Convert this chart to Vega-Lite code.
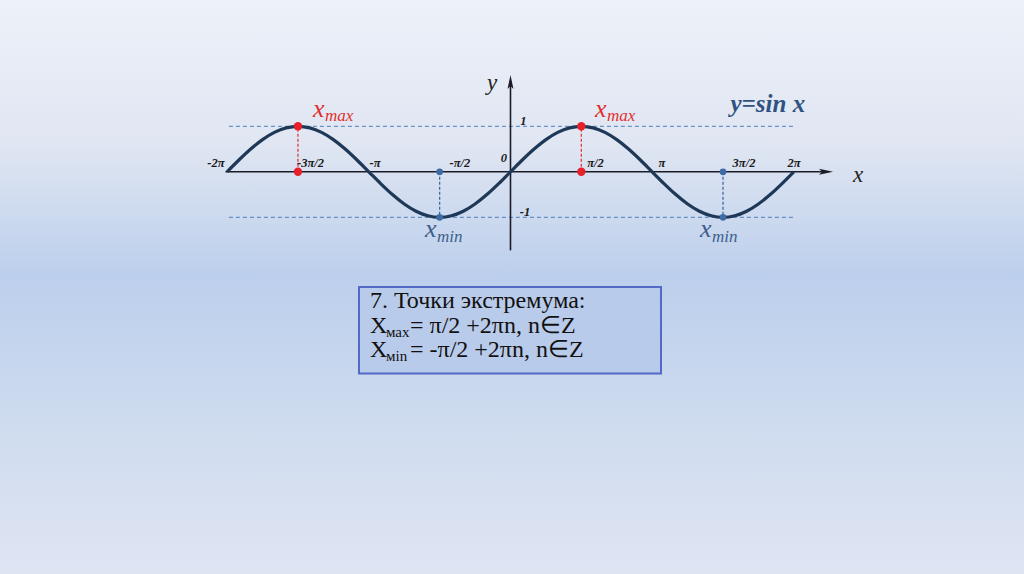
{
  "$schema": "https://vega.github.io/schema/vega-lite/v6.json",
  "width": 1024,
  "height": 574,
  "padding": 0,
  "autosize": "none",
  "background": "#d3ddef",
  "config": {
    "view": {
      "stroke": null,
      "fill": {"gradient": "linear", "x1": 0, "y1": 0, "x2": 0, "y2": 1, "stops": [
        {"offset": 0, "color": "#edf1f9"},
        {"offset": 0.25, "color": "#e0e6f2"},
        {"offset": 0.48, "color": "#bccfec"},
        {"offset": 0.75, "color": "#cfdcef"},
        {"offset": 1, "color": "#dfe4f3"}
      ]}
    },
    "text": {"font": "Liberation Serif"}
  },
  "datasets": {
    "sine": [
      {"x": -6.2832, "y": 0}, {"x": -6.0214, "y": 0.2588}, {"x": -5.7596, "y": 0.5}, {"x": -5.4978, "y": 0.7071},
      {"x": -5.236, "y": 0.866}, {"x": -4.9742, "y": 0.9659}, {"x": -4.7124, "y": 1}, {"x": -4.4506, "y": 0.9659},
      {"x": -4.1888, "y": 0.866}, {"x": -3.927, "y": 0.7071}, {"x": -3.6652, "y": 0.5}, {"x": -3.4034, "y": 0.2588},
      {"x": -3.1416, "y": 0}, {"x": -2.8798, "y": -0.2588}, {"x": -2.618, "y": -0.5}, {"x": -2.3562, "y": -0.7071},
      {"x": -2.0944, "y": -0.866}, {"x": -1.8326, "y": -0.9659}, {"x": -1.5708, "y": -1}, {"x": -1.309, "y": -0.9659},
      {"x": -1.0472, "y": -0.866}, {"x": -0.7854, "y": -0.7071}, {"x": -0.5236, "y": -0.5}, {"x": -0.2618, "y": -0.2588},
      {"x": 0, "y": 0}, {"x": 0.2618, "y": 0.2588}, {"x": 0.5236, "y": 0.5}, {"x": 0.7854, "y": 0.7071},
      {"x": 1.0472, "y": 0.866}, {"x": 1.309, "y": 0.9659}, {"x": 1.5708, "y": 1}, {"x": 1.8326, "y": 0.9659},
      {"x": 2.0944, "y": 0.866}, {"x": 2.3562, "y": 0.7071}, {"x": 2.618, "y": 0.5}, {"x": 2.8798, "y": 0.2588},
      {"x": 3.1416, "y": 0}, {"x": 3.4034, "y": -0.2588}, {"x": 3.6652, "y": -0.5}, {"x": 3.927, "y": -0.7071},
      {"x": 4.1888, "y": -0.866}, {"x": 4.4506, "y": -0.9659}, {"x": 4.7124, "y": -1}, {"x": 4.9742, "y": -0.9659},
      {"x": 5.236, "y": -0.866}, {"x": 5.4978, "y": -0.7071}, {"x": 5.7596, "y": -0.5}, {"x": 6.0214, "y": -0.2588},
      {"x": 6.2832, "y": 0}
    ],
    "box": [{"x": -3.359, "x2": 3.337, "y": -2.532, "y2": -4.433}],
    "hlines": [{"x": -6.243, "x2": 6.308, "y": 1}, {"x": -6.243, "x2": 6.308, "y": -1}],
    "axes": [{"x": -6.32, "x2": 7.0, "y": 0, "y2": 0}, {"x": 0, "x2": 0, "y": -1.727, "y2": 2.0}],
    "xarrow": [{"x": 6.996, "y": 0}],
    "yarrow": [{"x": 0, "y": 1.974}],
    "redv": [{"x": -4.7124, "y": 0, "y2": 1}, {"x": 1.5708, "y": 0, "y2": 1}],
    "bluev": [{"x": -1.5708, "y": 0, "y2": -1}, {"x": 4.7124, "y": 0, "y2": -1}],
    "redp": [{"x": -4.7124, "y": 1}, {"x": -4.7124, "y": 0}, {"x": 1.5708, "y": 1}, {"x": 1.5708, "y": 0}],
    "bluep": [{"x": -1.5708, "y": 0}, {"x": -1.5708, "y": -1}, {"x": 4.7124, "y": 0}, {"x": 4.7124, "y": -1}],
    "ticks": [
      {"x": -6.53, "y": 0.112, "t": "-2π"}, {"x": -4.435, "y": 0.112, "t": "-3π/2"},
      {"x": -3.004, "y": 0.112, "t": "-π"}, {"x": -1.12, "y": 0.112, "t": "-π/2"},
      {"x": -0.144, "y": 0.222, "t": "0"}, {"x": 0.288, "y": 1.029, "t": "1"},
      {"x": 0.322, "y": -0.965, "t": "-1"}, {"x": 1.885, "y": 0.112, "t": "π/2"},
      {"x": 3.359, "y": 0.112, "t": "π"}, {"x": 5.177, "y": 0.112, "t": "3π/2"},
      {"x": 6.286, "y": 0.112, "t": "2π"}
    ],
    "maxbig": [{"x": -4.379, "y": 1.204, "t": "x"}, {"x": 1.874, "y": 1.204, "t": "x"}],
    "maxsub": [{"x": -4.113, "y": 1.127, "t": "max"}, {"x": 2.14, "y": 1.127, "t": "max"}],
    "minbig": [{"x": -1.896, "y": -1.433, "t": "x"}, {"x": 4.202, "y": -1.433, "t": "x"}],
    "minsub": [{"x": -1.63, "y": -1.543, "t": "min"}, {"x": 4.468, "y": -1.543, "t": "min"}],
    "axislabels": [{"x": -0.521, "y": 1.798, "t": "y"}, {"x": 7.594, "y": -0.218, "t": "x"}],
    "title": [{"x": 4.878, "y": 1.321, "t": "y=sin x"}],
    "boxtext": [
      {"x": -3.115, "y": -2.993, "t": "7. Точки экстремума:"},
      {"x": -3.115, "y": -3.543, "t": "X"},
      {"x": -2.228, "y": -3.543, "t": "= π/2 +2πn, n∈Z"},
      {"x": -3.115, "y": -4.07, "t": "X"},
      {"x": -2.228, "y": -4.07, "t": "= -π/2 +2πn, n∈Z"}
    ],
    "boxsub": [
      {"x": -2.761, "y": -3.631, "t": "мах"},
      {"x": -2.761, "y": -4.158, "t": "мin"}
    ]
  },
  "encoding": {
    "x": {"field": "x", "type": "quantitative", "scale": {"domain": [-11.319, 11.386], "nice": false, "zero": false}, "axis": null},
    "y": {"field": "y", "type": "quantitative", "scale": {"domain": [-8.84, 3.776], "nice": false, "zero": false}, "axis": null}
  },
  "layer": [
    {"data": {"name": "box"}, "mark": {"type": "rect", "fill": "#b9cbea", "stroke": "#5468c8", "strokeWidth": 2},
     "encoding": {"x2": {"field": "x2"}, "y2": {"field": "y2"}}},
    {"data": {"name": "hlines"}, "mark": {"type": "rule", "color": "#4f7fbf", "strokeWidth": 1, "strokeDash": [4, 3]},
     "encoding": {"x2": {"field": "x2"}}},
    {"data": {"name": "axes"}, "mark": {"type": "rule", "color": "#1c1c28", "strokeWidth": 1.6},
     "encoding": {"x2": {"field": "x2"}, "y2": {"field": "y2"}}},
    {"data": {"name": "xarrow"}, "mark": {"type": "point", "shape": "M1,0L-1,-0.42L-0.55,0L-1,0.42Z", "filled": true, "color": "#1c1c28", "size": 200, "opacity": 1}},
    {"data": {"name": "yarrow"}, "mark": {"type": "point", "shape": "M0,-1L-0.42,1L0,0.55L0.42,1Z", "filled": true, "color": "#1c1c28", "size": 200, "opacity": 1}},
    {"data": {"name": "redv"}, "mark": {"type": "rule", "color": "#e0393e", "strokeWidth": 1.3, "strokeDash": [3, 2]},
     "encoding": {"y2": {"field": "y2"}}},
    {"data": {"name": "bluev"}, "mark": {"type": "rule", "color": "#3c6aa6", "strokeWidth": 1.3, "strokeDash": [3, 2]},
     "encoding": {"y2": {"field": "y2"}}},
    {"data": {"name": "sine"}, "mark": {"type": "line", "color": "#1e3858", "strokeWidth": 3.2, "interpolate": "monotone"}},
    {"data": {"name": "redp"}, "mark": {"type": "point", "filled": true, "color": "#e8202a", "size": 70, "opacity": 1}},
    {"data": {"name": "bluep"}, "mark": {"type": "point", "filled": true, "color": "#3d6ba8", "size": 45, "opacity": 1}},
    {"data": {"name": "ticks"}, "mark": {"type": "text", "fontSize": 12.5, "fontStyle": "italic", "fontWeight": "bold", "color": "#1a1a1a", "align": "center", "baseline": "alphabetic"},
     "encoding": {"text": {"field": "t"}}},
    {"data": {"name": "maxbig"}, "mark": {"type": "text", "fontSize": 26, "fontStyle": "italic", "color": "#e0312f", "align": "left", "baseline": "alphabetic"},
     "encoding": {"text": {"field": "t"}}},
    {"data": {"name": "maxsub"}, "mark": {"type": "text", "fontSize": 17, "fontStyle": "italic", "color": "#e0312f", "align": "left", "baseline": "alphabetic"},
     "encoding": {"text": {"field": "t"}}},
    {"data": {"name": "minbig"}, "mark": {"type": "text", "fontSize": 26, "fontStyle": "italic", "color": "#3d5f8c", "align": "left", "baseline": "alphabetic"},
     "encoding": {"text": {"field": "t"}}},
    {"data": {"name": "minsub"}, "mark": {"type": "text", "fontSize": 17, "fontStyle": "italic", "color": "#3d5f8c", "align": "left", "baseline": "alphabetic"},
     "encoding": {"text": {"field": "t"}}},
    {"data": {"name": "axislabels"}, "mark": {"type": "text", "fontSize": 23, "fontStyle": "italic", "color": "#222222", "align": "left", "baseline": "alphabetic"},
     "encoding": {"text": {"field": "t"}}},
    {"data": {"name": "title"}, "mark": {"type": "text", "fontSize": 25, "fontStyle": "italic", "fontWeight": "bold", "color": "#2f5283", "align": "left", "baseline": "alphabetic"},
     "encoding": {"text": {"field": "t"}}},
    {"data": {"name": "boxtext"}, "mark": {"type": "text", "fontSize": 24, "color": "#111111", "align": "left", "baseline": "alphabetic"},
     "encoding": {"text": {"field": "t"}}},
    {"data": {"name": "boxsub"}, "mark": {"type": "text", "fontSize": 15, "color": "#111111", "align": "left", "baseline": "alphabetic"},
     "encoding": {"text": {"field": "t"}}}
  ]
}
